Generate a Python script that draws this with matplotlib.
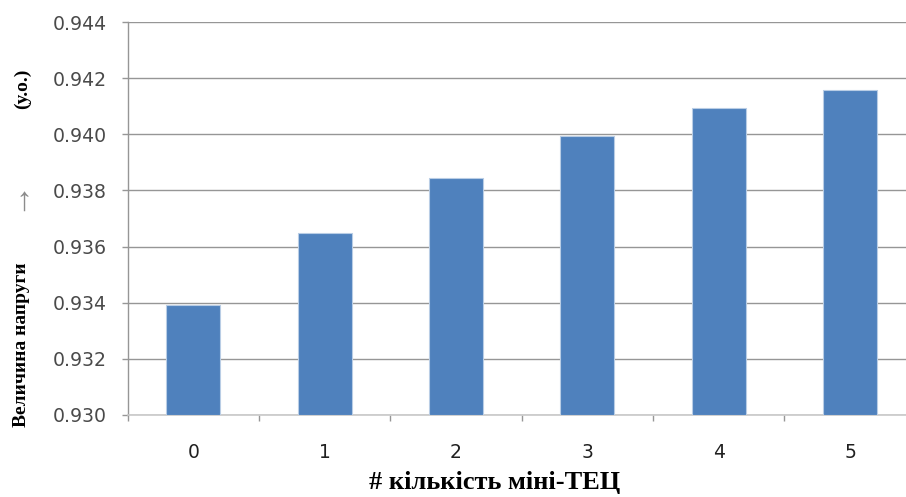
import matplotlib
matplotlib.use("Agg")
import matplotlib.pyplot as plt
import numpy as np

categories = ["0", "1", "2", "3", "4", "5"]
voltage = [0.93392, 0.93649, 0.93844, 0.93993, 0.94095, 0.94159]
y_ticks = [0.930, 0.932, 0.934, 0.936, 0.938, 0.940, 0.942, 0.944]

W, H = 906, 497
fig = plt.figure(figsize=(W / 100, H / 100), dpi=100)
ax = fig.add_axes([127.7 / W, (H - 415) / H, 788 / W, 393 / H])

x = np.arange(len(categories))
ax.bar(x, [v - y_ticks[0] for v in voltage], bottom=y_ticks[0], width=0.41,
       color="#4F81BD", edgecolor="#B9CDE5", linewidth=0.8, zorder=3)

ax.set_xlim(-0.5, len(categories) - 0.5)
ax.set_ylim(y_ticks[0], y_ticks[-1])
ax.set_yticks(y_ticks)
ax.set_yticklabels([f"{t:.3f}" for t in y_ticks])
ax.set_xticks(x)
ax.set_xticklabels(categories)
ax.set_xticks(np.arange(len(categories) + 1) - 0.5, minor=True)

ax.grid(axis="y", color="#969696", linewidth=1.0, zorder=0)
ax.tick_params(axis="y", length=4.3, width=1, color="#969696", pad=10.5,
               labelsize=13.6, labelcolor="#4A4A4A")
ax.tick_params(axis="x", which="major", length=0, pad=20,
               labelsize=13.5, labelcolor="#202020")
ax.tick_params(axis="x", which="minor", length=4.3, width=1, color="#969696")

for side in ("top", "right"):
    ax.spines[side].set_visible(False)
ax.spines["left"].set_color("#969696")
ax.spines["bottom"].set_color("#C8C8C8")
ax.spines["left"].set_linewidth(1.0)
ax.spines["bottom"].set_linewidth(1.2)

fig.text(495 / W, 1 - 482 / H, "# кількість міні-ТЕЦ", ha="center", va="center",
         fontsize=19, fontweight="bold", family="Liberation Serif")
fig.text(22 / W, 1 - 345 / H, "Величина напруги", rotation=90, ha="center",
         va="center", fontsize=14, fontweight="bold", family="Liberation Serif")
fig.text(16 / W, 1 - 194 / H, "→", rotation=90, ha="center", va="center",
         fontsize=24, color="#8C8C8C", family="Liberation Serif")
fig.text(22 / W, 1 - 89 / H, "(у.о.)", rotation=90, ha="center", va="center",
         fontsize=14, fontweight="bold", family="Liberation Serif")

fig.savefig("out.png", dpi=100)
